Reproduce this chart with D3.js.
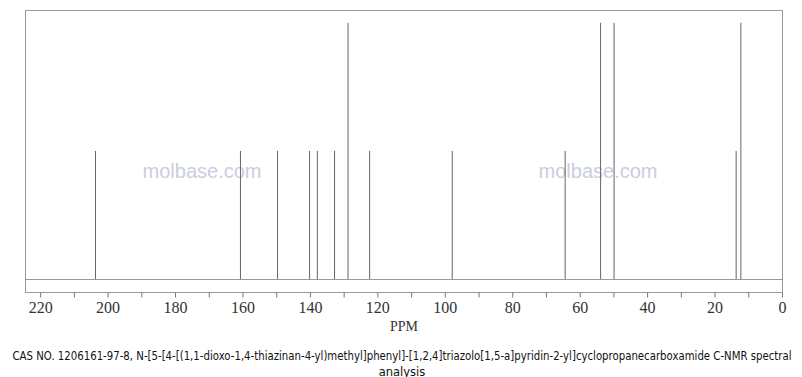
<!DOCTYPE html>
<html>
<head>
<meta charset="utf-8">
<script src="https://cdn.jsdelivr.net/npm/d3@7"></script>
<style>
  html, body { margin: 0; padding: 0; background: #fff; }
  svg { display: block; }
</style>
</head>
<body>
<svg width="802" height="377"></svg>
<script>
// peak positions (ppm) and relative intensities
const peakShifts = [203.6, 160.6, 149.6, 140.1, 137.8, 132.7, 128.7, 122.3, 97.8, 64.3, 53.8, 49.8, 13.6, 12.2]
const peakHeights = [0.5, 0.5, 0.5, 0.5, 0.5, 0.5, 1, 0.5, 0.5, 0.5, 1, 1, 0.5, 1]
const tickValues = d3.range(0, 221, 10)
const labelValues = [0, 20, 40, 60, 80, 100, 120, 140, 160, 180, 200, 220]
const watermarks = ["molbase.com", "molbase.com"]
const captionLines = [
    "CAS NO. 1206161-97-8, N-[5-[4-[(1,1-dioxo-1,4-thiazinan-4-yl)methyl]phenyl]-[1,2,4]triazolo[1,5-a]pyridin-2-yl]cyclopropanecarboxamide C-NMR spectral",
    "analysis"
]

const plotLeft = 25, plotRight = 782, plotTop = 10, plotBottom = 292, base = 279

const svg = d3.select("svg")

const x = d3.scaleLinear().domain([224.5, 0]).range([plotLeft, plotRight])
const y = d3.scaleLinear().domain([0, 1.05]).range([base, plotTop])

// frame
svg.append("rect")
    .attr("x", plotLeft + 0.5).attr("y", plotTop + 0.5)
    .attr("width", plotRight - plotLeft).attr("height", plotBottom - plotTop)
    .attr("fill", "none").attr("stroke", "#999")

svg.append("line")
    .attr("x1", plotLeft).attr("x2", plotRight)
    .attr("y1", base + 0.5).attr("y2", base + 0.5)
    .attr("stroke", "#999")

// watermark
svg.append("g")
    .selectAll("text")
    .data(watermarks)
    .enter()
    .append("text")
    .attr("x", (d, i) => i === 0 ? 202 : 598)
    .attr("y", 178)
    .attr("text-anchor", "middle")
    .attr("font-family", "Liberation Sans, Arial, sans-serif")
    .attr("font-size", 20)
    .attr("fill", "#c9cedf")
    .text(d => d)

// peaks
svg.append("g")
    .selectAll("line")
    .data(peakShifts)
    .enter()
    .append("line")
    .attr("x1", d => x(d)).attr("x2", d => x(d))
    .attr("y1", base)
    .attr("y2", (d, i) => y(peakHeights[i]))
    .attr("stroke", "#666")
    .attr("stroke-width", 1)

// axis
const axis = d3.axisBottom(x)
    .tickValues(tickValues)
    .tickSize(5)
    .tickSizeOuter(0)
    .tickFormat(d => labelValues.includes(d) ? d : "")

const gx = svg.append("g")
    .attr("transform", `translate(0,${plotBottom + 0.5})`)
    .call(axis)
gx.select(".domain").remove()
gx.selectAll(".tick line").attr("stroke", "#777")
gx.selectAll(".tick text")
    .attr("y", 9)
    .attr("font-family", "Liberation Serif, Times New Roman, serif")
    .attr("font-size", 16)
    .attr("fill", "#333")

svg.append("text")
    .attr("x", 404).attr("y", 331)
    .attr("text-anchor", "middle")
    .attr("font-family", "Liberation Serif, Times New Roman, serif")
    .attr("font-size", 14)
    .attr("fill", "#333")
    .text("PPM")

// caption
svg.append("g")
    .selectAll("text")
    .data(captionLines)
    .enter()
    .append("text")
    .attr("x", 402)
    .attr("y", (d, i) => 360 + i * 16)
    .attr("text-anchor", "middle")
    .attr("font-family", "DejaVu Sans, sans-serif")
    .attr("font-size", 11.5)
    .attr("fill", "#111")
    .attr("textLength", (d, i) => i === 0 ? 779 : null)
    .attr("lengthAdjust", "spacingAndGlyphs")
    .text(d => d)
</script>
</body>
</html>
